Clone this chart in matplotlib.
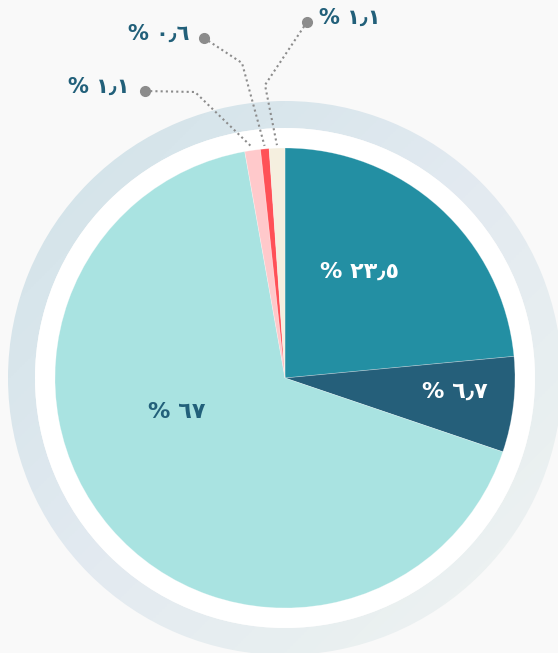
import numpy as np
import matplotlib.pyplot as plt
from matplotlib.patches import Wedge, Circle
from matplotlib.colors import LinearSegmentedColormap


# Datos del gráfico (porcentajes, sentido horario desde arriba)
values = [23.5, 6.7, 67.0, 1.1, 0.6, 1.1]
colors = ["#238fa3", "#255f7a", "#a9e3e1", "#ffc9cb", "#ff5157", "#f5efdf"]

# Etiquetas dentro del sector / fuera con línea de guía
inside = [0, 1, 2]
inside_colors = ["white", "white", "#22607a"]
outside = [3, 4, 5]

W, H = 558, 653
CENTER = (285, H - 378)
R_PIE = 230
R_WHITE = 250
R_RING = 277
RING_WIDTH = 27

LABEL_COLOR = "#22607a"
BG = "#f9f9f9"


def arabic_digits(v):
    text = f"{v:g}"
    table = str.maketrans("0123456789.", "٠١٢٣٤٥٦٧٨٩٫")
    return "% " + text.translate(table)


def px(x, y):
    # coordenadas de píxel (origen arriba) a datos
    return x, H - y


fig = plt.figure(figsize=(W / 100, H / 100), dpi=100)
fig.patch.set_facecolor(BG)
ax = fig.add_axes([0, 0, 1, 1])
ax.set_facecolor(BG)

# Anillo exterior con degradado
ring = Wedge(CENTER, R_RING, 0, 360, width=RING_WIDTH, facecolor="none",
             edgecolor="none")
ax.add_patch(ring)
cmap = LinearSegmentedColormap.from_list(
    "ring", ["#d1e2e8", "#d9e6ec", "#e3eaf1", "#e8eff0", "#f2f4f4"])
gx, gy = np.meshgrid(np.linspace(0, 1, 200), np.linspace(0, 1, 200))
grad = 0.5 * gx + 0.5 * (1 - gy)
img = ax.imshow(grad, cmap=cmap, origin="lower",
                extent=(CENTER[0] - R_RING, CENTER[0] + R_RING,
                        CENTER[1] - R_RING, CENTER[1] + R_RING),
                zorder=1)
img.set_clip_path(ring)

ax.add_patch(Circle(CENTER, R_WHITE, facecolor="white", edgecolor="none",
                    zorder=2))

wedges, _ = ax.pie(
    values,
    colors=colors,
    startangle=90,
    counterclock=False,
    center=CENTER,
    radius=R_PIE,
    frame=True,
    wedgeprops=dict(linewidth=0.5, edgecolor=(1, 1, 1, 0.35), zorder=3),
)

# Etiquetas interiores
inside_pos = [px(360, 272), px(455, 392), px(177, 412)]
for i, pos, c in zip(inside, inside_pos, inside_colors):
    ax.text(pos[0], pos[1], arabic_digits(values[i]), color=c,
            fontsize=16, fontweight="bold", ha="center", va="center",
            zorder=5)

# Etiquetas exteriores con líneas punteadas
dot_pos = [px(145, 91), px(204, 38), px(307, 22)]
bend_pos = [px(195, 92), px(242, 63), px(265, 85)]
text_side = ["right", "right", "left"]
for i, dot, bend, side in zip(outside, dot_pos, bend_pos, text_side):
    w = wedges[i]
    mid = np.deg2rad((w.theta1 + w.theta2) / 2)
    end = (CENTER[0] + (R_PIE + 3) * np.cos(mid),
           CENTER[1] + (R_PIE + 3) * np.sin(mid))
    ax.plot([dot[0], bend[0], end[0]], [dot[1], bend[1], end[1]],
            linestyle=(0, (1, 1.5)), color="#8c8c8c", linewidth=1.5,
            zorder=4)
    ax.plot(dot[0], dot[1], "o", color="#8c8c8c", markersize=7, zorder=4)
    off = -15 if side == "right" else 12
    ax.text(dot[0] + off, dot[1] + 4, arabic_digits(values[i]),
            color=LABEL_COLOR, fontsize=15, fontweight="bold",
            ha=side, va="center", zorder=5)

ax.set_xlim(0, W)
ax.set_ylim(0, H)
ax.set_aspect("auto")
ax.axis("off")

fig.savefig("out.png", dpi=100, facecolor=BG)
